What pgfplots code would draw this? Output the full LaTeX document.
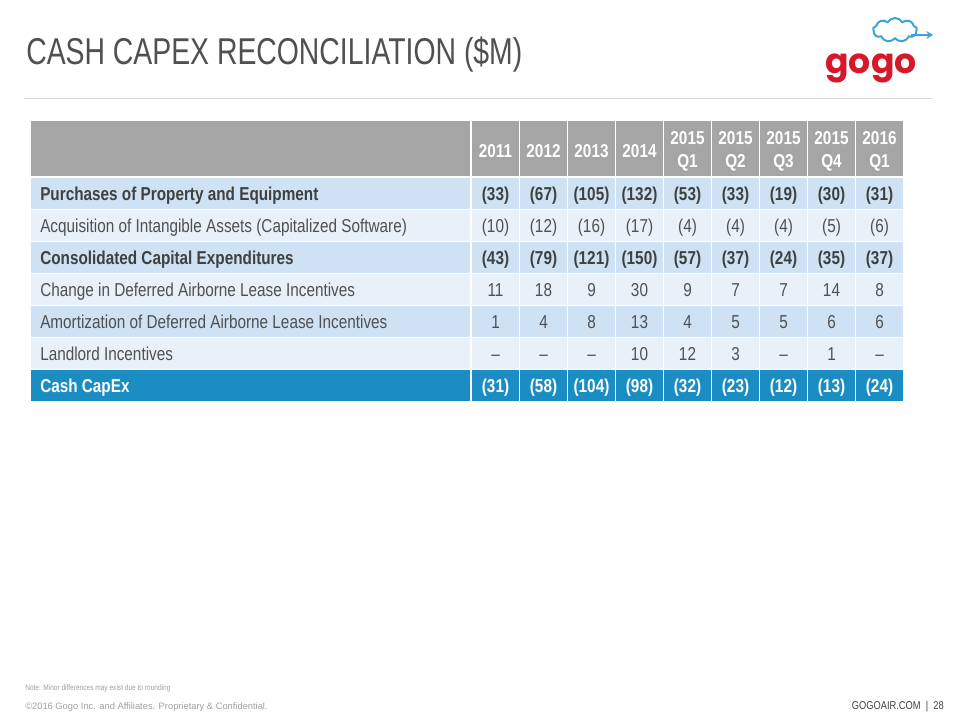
\documentclass[border=0pt]{standalone}
\usepackage{pgfplots}
\pgfplotsset{compat=1.18}
\usepackage{pgfplotstable}
\usepackage{fontspec}
\usetikzlibrary{shapes.symbols,arrows.meta}
\setmainfont{Liberation Sans}
\newfontfamily\narrow{Liberation Sans}[FakeStretch=0.82]
\newfontfamily\titlefont{Liberation Sans}[FakeStretch=0.76]
\newfontfamily\logofont{Poppins}
\definecolor{hdr}{HTML}{A5A5A5}
\definecolor{rowA}{HTML}{CFE2F3}
\definecolor{rowB}{HTML}{E8F1FA}
\definecolor{cashrow}{HTML}{1A8DC2}
\definecolor{txt}{HTML}{404040}
\definecolor{txtreg}{HTML}{505050}
\definecolor{titlegray}{HTML}{505050}
\definecolor{gogored}{HTML}{D7182A}
\definecolor{cloudblue}{HTML}{3BA4DC}
\definecolor{rulegray}{HTML}{DADADA}
\definecolor{footgray}{HTML}{A0A0A0}

% columns: x centre of each value column; r1..r7 = table rows
\pgfplotstableread{
x     r1    r2    r3    r4  r5  r6  r7
495.5 (33)  (10)  (43)  11  1   –   (31)
543.5 (67)  (12)  (79)  18  4   –   (58)
591.5 (105) (16)  (121) 9   8   –   (104)
639.5 (132) (17)  (150) 30  13  10  (98)
687.5 (53)  (4)   (57)  9   4   12  (32)
735.5 (33)  (4)   (37)  7   5   3   (23)
783.5 (19)  (4)   (24)  7   5   –   (12)
831.5 (30)  (5)   (35)  14  6   1   (13)
879.5 (31)  (6)   (37)  8   6   –   (24)
}\capex

\newcommand{\cellfont}{\narrow\fontsize{14}{17.5}\selectfont}
\pgfplotsset{
  cell/.style={only marks, mark=*, mark size=0pt, draw=none, fill=none,
    point meta=explicit symbolic, nodes near coords,
    nodes near coords align={anchor=base},
    every node near coord/.append style={font=\cellfont, text=txtreg, anchor=base, inner sep=0pt}},
  boldcell/.style={cell, every node near coord/.append style={font=\cellfont\bfseries, text=txt}},
  cashcell/.style={cell, every node near coord/.append style={font=\cellfont\bfseries, text=white}},
}

\begin{document}
\begin{tikzpicture}
\begin{axis}[
  scale only axis, width=720pt, height=540pt,
  xmin=0, xmax=960, ymin=0, ymax=720, y dir=reverse,
  hide axis, clip=true,
]
% background
\fill[white] (axis cs:0,0) rectangle (axis cs:960,720);
% title
\node[anchor=base west, inner sep=0pt, text=titlegray, font=\titlefont\fontsize{28}{30}\selectfont]
  at (axis cs:26,65) {CASH CAPEX RECONCILIATION (\$M)};
\draw[rulegray, line width=0.8pt] (axis cs:24,98.5) -- (axis cs:932,98.5);
% logo
\node[cloud, cloud puffs=9, cloud puff arc=120, aspect=1.8, draw=cloudblue, line width=1.5pt,
  minimum width=33pt, minimum height=18pt, inner sep=0pt] at (axis cs:895,30) {};
\draw[cloudblue, line width=1.5pt, -{Stealth[length=5pt,width=6pt]}] (axis cs:911,35) -- (axis cs:933,35);
\node[anchor=base, inner sep=0pt, text=gogored, font=\logofont\bfseries\fontsize{26}{27}\selectfont]
  at (axis cs:871,74) {gogo};
% table bands
\fill[hdr]     (axis cs:31,121) rectangle (axis cs:903,176);
\fill[rowA]    (axis cs:31,178) rectangle (axis cs:903,209);
\fill[rowB]    (axis cs:31,210) rectangle (axis cs:903,241);
\fill[rowA]    (axis cs:31,242) rectangle (axis cs:903,273);
\fill[rowB]    (axis cs:31,274) rectangle (axis cs:903,305);
\fill[rowA]    (axis cs:31,306) rectangle (axis cs:903,337);
\fill[rowB]    (axis cs:31,338) rectangle (axis cs:903,369);
\fill[cashrow] (axis cs:31,370) rectangle (axis cs:903,401);
% white column separators
\pgfplotsinvokeforeach{471,519.5,567.5,615.5,663.5,711.5,759.5,807.5,855.5}{
  \draw[white, line width=1.3pt] (axis cs:#1,119) -- (axis cs:#1,402);
}
% header labels
\node[font=\cellfont\bfseries, text=white, inner sep=0pt] at (axis cs:495.5,151) {2011};
\node[font=\cellfont\bfseries, text=white, inner sep=0pt] at (axis cs:543.5,151) {2012};
\node[font=\cellfont\bfseries, text=white, inner sep=0pt] at (axis cs:591.5,151) {2013};
\node[font=\cellfont\bfseries, text=white, inner sep=0pt] at (axis cs:639.5,151) {2014};
\node[font=\cellfont\bfseries, text=white, inner sep=0pt, align=center] at (axis cs:687.5,151) {2015\\Q1};
\node[font=\cellfont\bfseries, text=white, inner sep=0pt, align=center] at (axis cs:735.5,151) {2015\\Q2};
\node[font=\cellfont\bfseries, text=white, inner sep=0pt, align=center] at (axis cs:783.5,151) {2015\\Q3};
\node[font=\cellfont\bfseries, text=white, inner sep=0pt, align=center] at (axis cs:831.5,151) {2015\\Q4};
\node[font=\cellfont\bfseries, text=white, inner sep=0pt, align=center] at (axis cs:879.5,151) {2016\\Q1};
% row labels
\node[anchor=base west, inner sep=0pt, font=\cellfont\bfseries, text=txt] at (axis cs:40,200.5) {Purchases of Property and Equipment};
\node[anchor=base west, inner sep=0pt, font=\cellfont, text=txtreg] at (axis cs:40,232.5) {Acquisition of Intangible Assets (Capitalized Software)};
\node[anchor=base west, inner sep=0pt, font=\cellfont\bfseries, text=txt] at (axis cs:40,264.5) {Consolidated Capital Expenditures};
\node[anchor=base west, inner sep=0pt, font=\cellfont, text=txtreg] at (axis cs:40,296.5) {Change in Deferred Airborne Lease Incentives};
\node[anchor=base west, inner sep=0pt, font=\cellfont, text=txtreg] at (axis cs:40,328.5) {Amortization of Deferred Airborne Lease Incentives};
\node[anchor=base west, inner sep=0pt, font=\cellfont, text=txtreg] at (axis cs:40,360.5) {Landlord Incentives};
\node[anchor=base west, inner sep=0pt, font=\cellfont\bfseries, text=white] at (axis cs:40,392.5) {Cash CapEx};
% values
\addplot[boldcell] table[x=x, y expr=200.5, meta=r1] {\capex};
\addplot[cell]     table[x=x, y expr=232.5, meta=r2] {\capex};
\addplot[boldcell] table[x=x, y expr=264.5, meta=r3] {\capex};
\addplot[cell]     table[x=x, y expr=296.5, meta=r4] {\capex};
\addplot[cell]     table[x=x, y expr=328.5, meta=r5] {\capex};
\addplot[cell]     table[x=x, y expr=360.5, meta=r6] {\capex};
\addplot[cashcell] table[x=x, y expr=392.5, meta=r7] {\capex};
% footer
\node[anchor=west, inner sep=0pt, text=footgray, font=\narrow\fontsize{6}{7}\selectfont] at (axis cs:25,688) {Note: Minor differences may exist due to rounding};
\node[anchor=west, inner sep=0pt, text=footgray, font=\fontsize{7}{8}\selectfont] at (axis cs:25,707) {©2016 Gogo Inc. and Affiliates. Proprietary \& Confidential.};
\node[anchor=east, inner sep=0pt, text=txt, font=\narrow\fontsize{8.5}{9}\selectfont] at (axis cs:944,707) {GOGOAIR.COM~~\textbar~~28};
\end{axis}
\end{tikzpicture}
\end{document}
